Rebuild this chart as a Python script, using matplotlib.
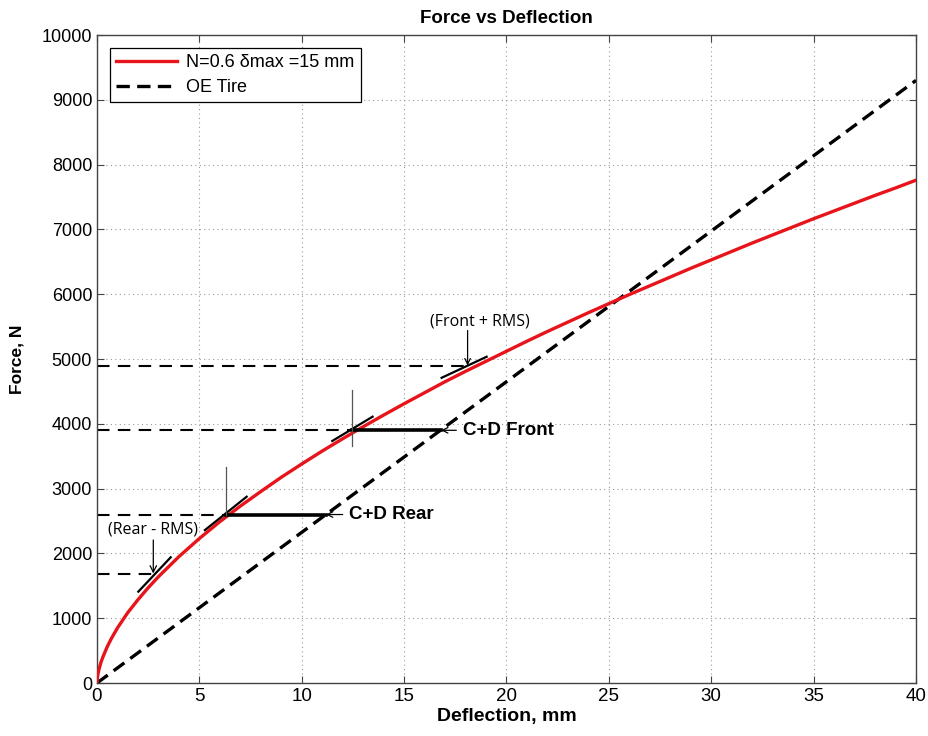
import matplotlib
matplotlib.use("Agg")
import matplotlib.pyplot as plt
import numpy as np

# red curve, N=0.6
defl = [0, 0.02, 0.05, 0.1, 0.2, 0.3, 0.5, 0.7, 1, 1.5, 2, 2.5, 3, 4, 5, 6, 7, 8, 9, 10, 11, 12, 13, 14,
        15, 16, 17, 18, 19, 20, 21, 22, 23, 24, 25, 26, 27, 28, 29, 30, 31, 32, 33, 34, 35, 36, 37, 38, 39, 40]
force = [0, 80, 140, 215, 325, 410, 560, 685, 850, 1085, 1285, 1470, 1640, 1950, 2230, 2490, 2730,
         2955, 3175, 3380, 3580, 3770, 3955, 4135, 4310, 4480, 4650, 4810, 4965, 5120, 5275, 5425,
         5570, 5715, 5855, 5995, 6130, 6265, 6400, 6530, 6660, 6790, 6915, 7040, 7165, 7285, 7405,
         7525, 7640, 7760]
# OE tire (straight)
oe_defl = [0, 40]
oe_force = [0, 9300]

# annotation levels
front_rms = 4900
cd_front = 3900
cd_rear = 2600
rear_rms = 1690

arial = ["Liberation Sans", "DejaVu Sans"]
light = ["Open Sans", "DejaVu Sans"]

fig = plt.figure(figsize=(9.29, 7.36), dpi=100)
ax = fig.add_axes([0.1044, 0.072, 0.8816, 0.8804])

ax.plot(defl, force, color="#e8141b", lw=2.4, label="N=0.6 δmax =15 mm", zorder=4)
ax.plot(oe_defl, oe_force, color="k", lw=2.4, ls=(0, (4, 2.2)), label="OE Tire", zorder=3)

# dashed levels from the axis to the curve
ax.plot([0, 18.1], [front_rms, front_rms], color="k", lw=1.5, ls=(0, (6, 4)))
ax.plot([0, 12.45], [cd_front, cd_front], color="k", lw=1.5, ls=(0, (6, 4)))
ax.plot([0, 6.3], [cd_rear, cd_rear], color="k", lw=1.5, ls=(0, (6, 4)))
ax.plot([0, 2.75], [rear_rms, rear_rms], color="k", lw=1.5, ls=(0, (6, 4)))

# C+D bars from curve to OE line
ax.plot([12.45, 16.8], [cd_front, cd_front], color="k", lw=2.6, zorder=5)
ax.plot([6.3, 11.18], [cd_rear, cd_rear], color="k", lw=2.6, zorder=5)

# tangents
ax.plot([16.83, 19.03], [4710, 5035], color="k", lw=1.6, zorder=5)
ax.plot([11.49, 13.46], [3735, 4110], color="k", lw=1.6, zorder=5)
ax.plot([5.27, 7.31], [2360, 2875], color="k", lw=1.6, zorder=5)
ax.plot([2.02, 3.6], [1410, 1940], color="k", lw=1.6, zorder=5)

# thin vertical marks
ax.plot([12.47, 12.47], [3650, 4520], color="#555555", lw=0.9, zorder=5)
ax.plot([6.28, 6.28], [2600, 3340], color="#555555", lw=0.9, zorder=5)

arr = dict(arrowstyle="->", color="k", lw=0.9, shrinkA=0, shrinkB=0)
ax.text(18.7, 5460, "(Front + RMS)", ha="center", va="bottom", fontsize=11.5, family=light)
ax.annotate("", xy=(18.1, front_rms), xytext=(18.1, 5440), arrowprops=arr)
ax.annotate("(Rear - RMS)", xy=(2.75, rear_rms), xytext=(2.75, 2250), ha="center", va="bottom",
            fontsize=11.5, family=light, arrowprops=arr)
ax.annotate("", xy=(16.8, cd_front), xytext=(17.55, cd_front), arrowprops=arr)
ax.text(17.9, cd_front, "C+D Front", fontsize=13.5, fontweight="bold", family=arial, va="center")
ax.annotate("", xy=(11.18, cd_rear), xytext=(12.0, cd_rear), arrowprops=arr)
ax.text(12.3, cd_rear, "C+D Rear", fontsize=13.5, fontweight="bold", family=arial, va="center")

ax.set_xlim(0, 40)
ax.set_ylim(0, 10000)
ax.set_xticks(np.arange(0, 41, 5))
ax.set_yticks(np.arange(0, 10001, 1000))
ax.grid(True, color="#999999", ls=(0, (1, 3)), lw=0.8)
ax.tick_params(direction="in", length=5, color="#444444", top=True, right=True)
for lab in ax.get_xticklabels():
    lab.set_family(arial)
    lab.set_fontsize(13.5)
for lab in ax.get_yticklabels():
    lab.set_family(arial)
    lab.set_fontsize(13)
for s in ax.spines.values():
    s.set_color("#444444")
    s.set_linewidth(1.0)

ax.set_xlabel("Deflection, mm", fontsize=14, fontweight="bold", family=arial, labelpad=2)
ax.set_ylabel("Force, N", fontsize=12.5, fontweight="bold", family=arial, labelpad=12)
ax.set_title("Force vs Deflection", fontsize=13.5, fontweight="bold", family=arial, pad=9)

leg = ax.legend(loc="upper left", prop={"family": arial, "size": 13}, fancybox=False,
                edgecolor="k", framealpha=1, handlelength=3.4, borderpad=0.35, labelspacing=0.45,
                borderaxespad=0.7, handletextpad=0.5)
leg.get_frame().set_linewidth(0.9)

plt.savefig("out.png", dpi=100)
